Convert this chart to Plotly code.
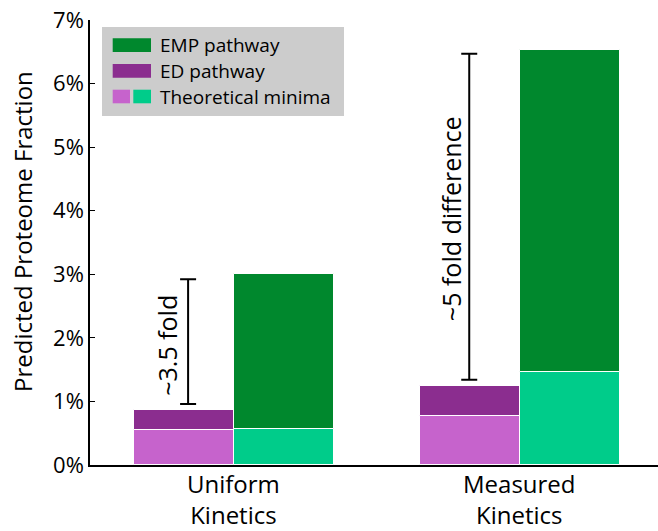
import plotly.graph_objects as go
import numpy as np

categories = ["Uniform<br>Kinetics", "Measured<br>Kinetics"]
ed_min = [0.55, 0.77]        # theoretical minima, ED (%)
ed_total = [0.87, 1.24]      # ED pathway total (%)
emp_min = [0.56, 1.47]       # theoretical minima, EMP (%)
emp_total = [3.01, 6.53]     # EMP pathway total (%)
fold_low = [0.96, 1.34]
fold_high = [2.92, 6.47]
fold_labels = ["~3.5 fold", "~5 fold difference"]
fold_label_y = [1.89, 3.88]
y_ticks = [0, 1, 2, 3, 4, 5, 6, 7]

C_EMP = "#00882d"
C_ED = "#8b2d8f"
C_EDMIN = "#c663cc"
C_EMPMIN = "#00cc8a"
FONT = "Open Sans"

xpos = np.arange(len(categories))
W = 0.35
off_l = -0.175
off_r = 0.175

fig = go.Figure()
line = dict(color="white", width=1)
fig.add_bar(x=xpos + off_l, y=ed_min, width=W, marker=dict(color=C_EDMIN, line=line), showlegend=False)
fig.add_bar(x=xpos + off_l, y=list(np.array(ed_total) - np.array(ed_min)), base=ed_min, width=W,
            marker=dict(color=C_ED, line=line), showlegend=False)
fig.add_bar(x=xpos + off_r, y=emp_min, width=W, marker=dict(color=C_EMPMIN, line=line), showlegend=False)
fig.add_bar(x=xpos + off_r, y=list(np.array(emp_total) - np.array(emp_min)), base=emp_min, width=W,
            marker=dict(color=C_EMP, line=line), showlegend=False)

bracket_dx = [-0.16, -0.177]
fig.add_scatter(x=xpos + np.array(bracket_dx), y=fold_low, mode="markers",
                marker=dict(size=1, color="rgba(0,0,0,0)"),
                error_y=dict(type="data", symmetric=False,
                             array=list(np.array(fold_high) - np.array(fold_low)),
                             arrayminus=[0, 0], color="black", thickness=2, width=8),
                showlegend=False, hoverinfo="skip")

label_dx = [-0.234, -0.238]
for i in range(len(categories)):
    fig.add_annotation(x=xpos[i] + label_dx[i], y=fold_label_y[i], text=fold_labels[i],
                       textangle=-90, showarrow=False,
                       font=dict(family=FONT, size=25, color="black"))

# layout geometry helpers (paper coords from pixel positions)
L, T = 90, 20
PW, PH = 568, 445
def px(x):
    return (x - L) / PW
def py(y):
    return (T + PH - y) / PH

# category labels
for i, cat in enumerate(categories):
    fig.add_annotation(x=xpos[i], yref="paper", y=py(499), text=cat, showarrow=False,
                       xanchor="center", yanchor="middle",
                       font=dict(family=FONT, size=24, color="black"))

# legend (manual, to reproduce double swatch)
shapes = []
shapes.append(dict(type="rect", xref="paper", yref="paper", x0=px(102), x1=px(344), y0=py(116), y1=py(27),
                   fillcolor="#cccccc", line=dict(width=0), layer="above"))
sw = [
    (112.7, 151, 38.3, 52, C_EMP),
    (112.7, 151, 64, 77.7, C_ED),
    (112.7, 130, 89.7, 103.3, C_EDMIN),
    (133.3, 151, 89.7, 103.3, C_EMPMIN),
]
for x0, x1, y0, y1, c in sw:
    shapes.append(dict(type="rect", xref="paper", yref="paper", x0=px(x0), x1=px(x1), y0=py(y1), y1=py(y0),
                       fillcolor=c, line=dict(width=0), layer="above"))
leg_text = ["EMP pathway", "ED pathway", "Theoretical minima"]
leg_y = [45, 71, 96.5]
for t, yy in zip(leg_text, leg_y):
    fig.add_annotation(xref="paper", yref="paper", x=px(158), y=py(yy), text=t, showarrow=False,
                       xanchor="left", yanchor="middle", font=dict(family=FONT, size=19, color="black"))

fig.add_annotation(xref="paper", yref="paper", x=px(22), y=py(232), text="Predicted Proteome Fraction",
                   textangle=-90, showarrow=False, xanchor="center", yanchor="middle",
                   font=dict(family=FONT, size=24, color="black"))

fig.update_layout(
    width=658, height=531,
    margin=dict(l=L, r=0, t=T, b=531 - T - PH),
    paper_bgcolor="white", plot_bgcolor="white",
    barmode="overlay", bargap=0,
    shapes=shapes,
    font=dict(family=FONT, color="black"),
    xaxis=dict(range=[-0.503, 1.483], tickvals=list(xpos), showticklabels=False, showline=True,
               linecolor="black", linewidth=1.5, ticks="", showgrid=False, zeroline=False,
               automargin=False),
    yaxis=dict(range=[0, 7], tickvals=y_ticks, ticktext=[f"{v}%" for v in y_ticks], showline=True,
               linecolor="black", linewidth=1.5, ticks="inside", ticklen=5, tickcolor="black",
               showgrid=False, zeroline=False, automargin=False,
               tickfont=dict(family=FONT, size=22, color="black")),
)

fig.write_html("out.html", config={"displayModeBar": False},
               post_script="document.body.style.margin='0';document.body.style.overflow='hidden';")
